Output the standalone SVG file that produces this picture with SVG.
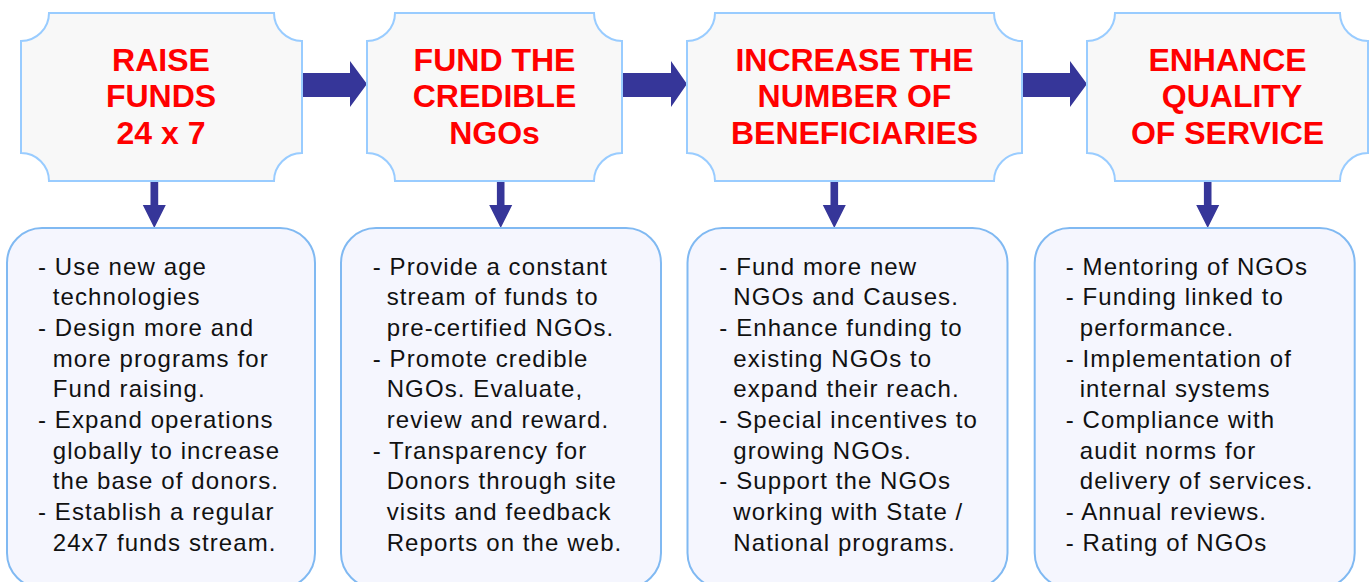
<svg xmlns="http://www.w3.org/2000/svg" width="1369" height="582" viewBox="0 0 1369 582">
<style>
.top{fill:#f8f8f8;stroke:#99ccff;stroke-width:2}
.bot{fill:#f5f6fe;stroke:#80b9f2;stroke-width:2}
.title{font-family:"Liberation Sans",Arial,sans-serif;font-size:32px;font-weight:bold;fill:#ff0000;text-anchor:middle}
.body{font-family:"Liberation Sans",Arial,sans-serif;font-size:24px;fill:#111111;letter-spacing:1.1px}
.arr{fill:#363699}
</style>
<rect width="1369" height="582" fill="#ffffff"/>
<g id="connectors">
<polygon class="arr" points="302,73 350,73 350,61 367,84 350,107 350,97 302,97"/>
<polygon class="arr" points="622,73 671,73 671,61 687,84 671,107 671,97 622,97"/>
<polygon class="arr" points="1022,73 1070,73 1070,61 1087,84 1070,107 1070,97 1022,97"/>
<polygon class="arr" points="150.5,181 158.2,181 158.2,205 165.8,205 154.3,228 142.8,205 150.5,205"/>
<polygon class="arr" points="496.9,181 504.5,181 504.5,205 512.2,205 500.7,228 489.2,205 496.9,205"/>
<polygon class="arr" points="830.5,181 838.1,181 838.1,205 845.8,205 834.3,228 822.8,205 830.5,205"/>
<polygon class="arr" points="1203.9,181 1211.5,181 1211.5,205 1219.2,205 1207.7,228 1196.2,205 1203.9,205"/>
</g>
<g id="top1">
<path class="top" d="M49,13 H274 A28,28 0 0 0 302,41 V153 A28,28 0 0 0 274,181 H49 A28,28 0 0 0 21,153 V41 A28,28 0 0 0 49,13 Z"/>
<text class="title"><tspan x="161" y="71">RAISE</tspan><tspan x="161" y="107">FUNDS</tspan><tspan x="161" y="143.5">24 x 7</tspan></text>
</g>
<g id="top2">
<path class="top" d="M395,13 H594 A28,28 0 0 0 622,41 V153 A28,28 0 0 0 594,181 H395 A28,28 0 0 0 367,153 V41 A28,28 0 0 0 395,13 Z"/>
<text class="title"><tspan x="494.5" y="71">FUND THE</tspan><tspan x="494.5" y="107">CREDIBLE</tspan><tspan x="494.5" y="143.5">NGOs</tspan></text>
</g>
<g id="top3">
<path class="top" d="M715,13 H994 A28,28 0 0 0 1022,41 V153 A28,28 0 0 0 994,181 H715 A28,28 0 0 0 687,153 V41 A28,28 0 0 0 715,13 Z"/>
<text class="title"><tspan x="854.5" y="71">INCREASE THE</tspan><tspan x="854.5" y="107">NUMBER OF</tspan><tspan x="854.5" y="143.5">BENEFICIARIES</tspan></text>
</g>
<g id="top4">
<path class="top" d="M1115,13 H1340 A28,28 0 0 0 1368,41 V153 A28,28 0 0 0 1340,181 H1115 A28,28 0 0 0 1087,153 V41 A28,28 0 0 0 1115,13 Z"/>
<text class="title"><tspan x="1227.5" y="71">ENHANCE</tspan><tspan x="1232" y="107">QUALITY</tspan><tspan x="1227.5" y="143.5">OF SERVICE</tspan></text>
</g>
<g id="list1">
<rect class="bot" x="7" y="228" width="308" height="360" rx="35" ry="35"/>
<text class="body">
<tspan x="38" y="274.5">- Use new age</tspan>
<tspan x="52.7" y="305.2">technologies</tspan>
<tspan x="38" y="335.9">- Design more and</tspan>
<tspan x="52.7" y="366.6">more programs for</tspan>
<tspan x="52.7" y="397.3">Fund raising.</tspan>
<tspan x="38" y="428">- Expand operations</tspan>
<tspan x="52.7" y="458.7">globally to increase</tspan>
<tspan x="52.7" y="489.4">the base of donors.</tspan>
<tspan x="38" y="520.1">- Establish a regular</tspan>
<tspan x="52.7" y="550.8">24x7 funds stream.</tspan>
</text>
</g>
<g id="list2">
<rect class="bot" x="341" y="228" width="320" height="360" rx="35" ry="35"/>
<text class="body">
<tspan x="372.7" y="274.5">- Provide a constant</tspan>
<tspan x="386.7" y="305.2">stream of funds to</tspan>
<tspan x="386.7" y="335.9">pre-certified NGOs.</tspan>
<tspan x="372.7" y="366.6">- Promote credible</tspan>
<tspan x="386.7" y="397.3">NGOs. Evaluate,</tspan>
<tspan x="386.7" y="428">review and reward.</tspan>
<tspan x="372.7" y="458.7">- Transparency for</tspan>
<tspan x="386.7" y="489.4">Donors through site</tspan>
<tspan x="386.7" y="520.1">visits and feedback</tspan>
<tspan x="386.7" y="550.8">Reports on the web.</tspan>
</text>
</g>
<g id="list3">
<rect class="bot" x="687.5" y="228" width="320" height="360" rx="35" ry="35"/>
<text class="body">
<tspan x="719.3" y="274.5">- Fund more new</tspan>
<tspan x="733.3" y="305.2">NGOs and Causes.</tspan>
<tspan x="719.3" y="335.9">- Enhance funding to</tspan>
<tspan x="733.3" y="366.6">existing NGOs to</tspan>
<tspan x="733.3" y="397.3">expand their reach.</tspan>
<tspan x="719.3" y="428">- Special incentives to</tspan>
<tspan x="733.3" y="458.7">growing NGOs.</tspan>
<tspan x="719.3" y="489.4">- Support the NGOs</tspan>
<tspan x="733.3" y="520.1">working with State /</tspan>
<tspan x="733.3" y="550.8">National programs.</tspan>
</text>
</g>
<g id="list4">
<rect class="bot" x="1034.7" y="228" width="320" height="360" rx="35" ry="35"/>
<text class="body">
<tspan x="1065.7" y="274.5">- Mentoring of NGOs</tspan>
<tspan x="1065.7" y="305.2">- Funding linked to</tspan>
<tspan x="1079.7" y="335.9">performance.</tspan>
<tspan x="1065.7" y="366.6">- Implementation of</tspan>
<tspan x="1079.7" y="397.3">internal systems</tspan>
<tspan x="1065.7" y="428">- Compliance with</tspan>
<tspan x="1079.7" y="458.7">audit norms for</tspan>
<tspan x="1079.7" y="489.4">delivery of services.</tspan>
<tspan x="1065.7" y="520.1">- Annual reviews.</tspan>
<tspan x="1065.7" y="550.8">- Rating of NGOs</tspan>
</text>
</g>
</svg>
